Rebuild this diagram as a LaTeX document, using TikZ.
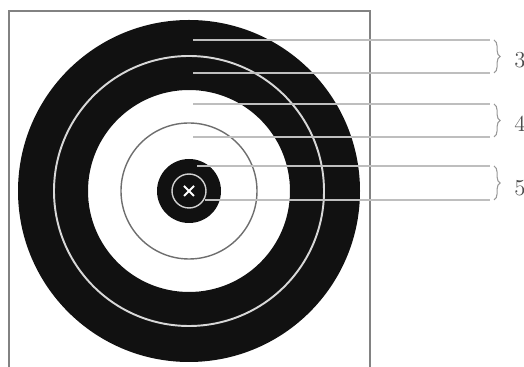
\documentclass[tikz,border=0pt]{standalone}
\usepackage{xcolor}
\usetikzlibrary{decorations.pathreplacing}
\definecolor{ringblack}{RGB}{17, 17, 17}
\definecolor{framegray}{RGB}{130, 130, 130}
\definecolor{leadgray}{RGB}{190, 190, 190}
\definecolor{thingray}{RGB}{110, 110, 110}

\begin{document}
\begin{tikzpicture}[
  x=0.02cm, y=-0.02cm,
  frame/.style={draw=framegray, line width=0.85pt},
  band/.style={fill=ringblack, even odd rule},
  whiteline/.style={draw=leadgray!60, line width=1.1pt},
  thinline/.style={draw=thingray, line width=0.8pt},
  leader/.style={draw=leadgray, line width=1.1pt},
  bracket/.style={draw=leadgray!80!black, line width=0.6pt,
    decorate, decoration={brace, amplitude=3.5pt}},
  score/.style={font=\fontsize{13}{15}\selectfont, text=black!70, anchor=west, inner sep=0pt},
]

\useasboundingbox (0,0) rectangle (524,367);

\def\cx{189}
\def\cy{191}
\def\lineend{490}

% frame (runs off the bottom)
\draw[frame] (9,380) -- (9,11) -- (370,11) -- (370,380);

% outer black band and centre disc
\fill[band] (\cx,\cy) circle (171) (\cx,\cy) circle (101);
\fill[ringblack] (\cx,\cy) circle (32);

% ring lines
\draw[whiteline] (\cx,\cy) circle (135);
\draw[thinline] (\cx,\cy) circle (68);
\draw[draw=leadgray!70, line width=0.8pt] (\cx,\cy) circle (17);

% centre cross
\draw[white, line width=1.2pt] (\cx-5,\cy-5) -- (\cx+5,\cy+5) (\cx-5,\cy+5) -- (\cx+5,\cy-5);

% leader lines
\coordinate (a1) at (193,40);  \coordinate (b1) at (\lineend,40);
\coordinate (a2) at (193,73);  \coordinate (b2) at (\lineend,73);
\coordinate (a3) at (193,104); \coordinate (b3) at (\lineend,104);
\coordinate (a4) at (193,137); \coordinate (b4) at (\lineend,137);
\coordinate (a5) at (197,166); \coordinate (b5) at (\lineend,166);
\coordinate (a6) at (205,200); \coordinate (b6) at (\lineend,200);
\foreach \i in {1,...,6}
  \draw[leader] (a\i) -- (b\i);

% braces and scores
\coordinate (t3) at (494,40);  \coordinate (u3) at (494,73);
\coordinate (t4) at (494,104); \coordinate (u4) at (494,137);
\coordinate (t5) at (494,166); \coordinate (u5) at (494,200);
\draw[bracket] (t3) -- (u3);
\draw[bracket] (t4) -- (u4);
\draw[bracket] (t5) -- (u5);
\node[score] (s3) at (514,60)  {3};
\node[score] (s4) at (514,124) {4};
\node[score] (s5) at (514,188) {5};

\end{tikzpicture}
\end{document}
